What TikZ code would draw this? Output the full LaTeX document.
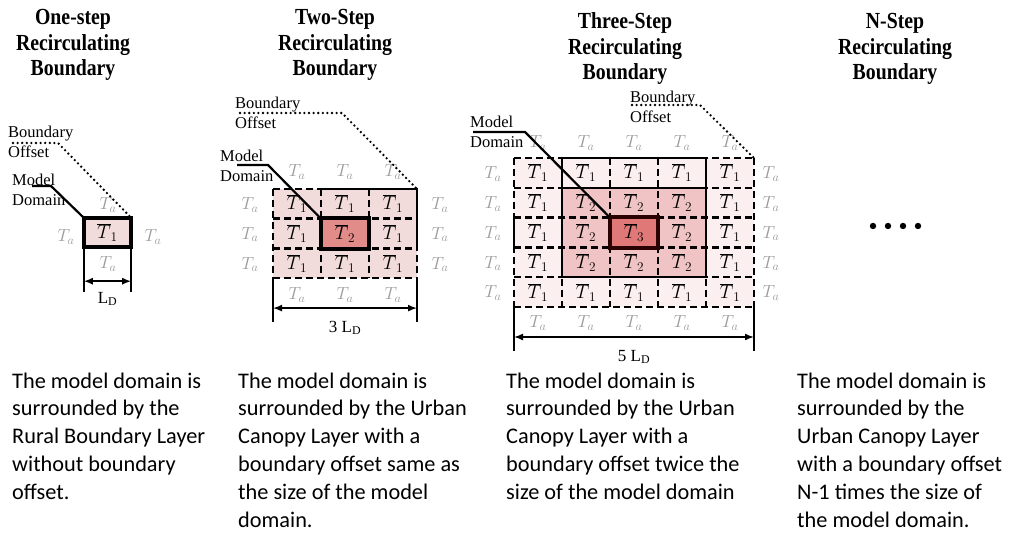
\documentclass[tikz,border=0pt]{standalone}
\usepackage{fix-cm}
\usepackage{fontspec}
\setmainfont{Liberation Serif}
\newfontfamily\titlefont[FakeStretch=0.86]{Liberation Serif}
\newfontfamily\bodyfont{Carlito}
\usetikzlibrary{arrows.meta,calc}
\definecolor{pinkA}{HTML}{F2DCDB}
\definecolor{pinkB}{HTML}{E28C8A}
\definecolor{paleC}{HTML}{FBEFEF}
\definecolor{midC}{HTML}{F0C4C4}
\definecolor{ctrC}{HTML}{E07878}
\definecolor{taGray}{HTML}{9A9A9A}
\definecolor{darkRed}{HTML}{2A0000}
\begin{document}
\begin{tikzpicture}[x=1pt,y=-1pt,
  titletext/.style={align=center,anchor=base,font=\titlefont\bfseries\fontsize{23}{25.5}\selectfont},
  bodytext/.style={align=left,anchor=base west,inner sep=0pt,font=\bodyfont\fontsize{22.3}{27.8}\selectfont},
  smalllabel/.style={align=left,anchor=base west,inner sep=0pt,font=\fontsize{16.5}{20}\selectfont},
  cell/.style={inner sep=0pt,minimum width=48pt,minimum height=29.8pt,font=\fontsize{19}{21}\selectfont},
  talabel/.style={text=taGray,inner sep=0pt,font=\fontsize{17.5}{20}\selectfont},
  gridline/.style={line width=2.4pt,dash pattern=on 7pt off 4pt},
  solidline/.style={line width=2.4pt},
  leader/.style={line width=2.2pt},
  dotline/.style={line width=2.6pt,line cap=round,dash pattern=on 0pt off 4.6pt},
  dimline/.style={line width=1.6pt},
  dimarrow/.style={line width=1.6pt,{Latex[length=9pt,width=7pt]}-{Latex[length=9pt,width=7pt]}},
  dimlabel/.style={anchor=base,inner sep=0pt,font=\fontsize{17}{20}\selectfont},
]
\fill[white] (0,0) rectangle (1016,534);
\useasboundingbox (0,0) rectangle (1016,534);

% ---------- Titles (anchor = baseline of last line) ----------
\node[titletext] (t1) at (73,76) {One-step\\Recirculating\\Boundary};
\node[titletext] (t2) at (335,76) {Two-Step\\Recirculating\\Boundary};
\node[titletext] (t3) at (625,80) {Three-Step\\Recirculating\\Boundary};
\node[titletext] (t4) at (895,80) {N-Step\\Recirculating\\Boundary};

% ---------- Panel 1 ----------
\node[cell,fill=pinkA,minimum width=47pt,minimum height=29pt] (c1) at (107.5,232.5) {$\overline{T}_1$};
\draw[line width=4pt] (c1.north west) rectangle (c1.south east);
\node[talabel] (ta1t) at (108,205) {$T_a$};
\node[talabel] (ta1l) at (66,237) {$T_a$};
\node[talabel] (ta1r) at (153,237) {$T_a$};
\node[talabel] (ta1b) at (108,264) {$T_a$};
\draw[dimline] (c1.south west) -- ++(0,45);
\draw[dimline] (c1.south east) -- ++(0,45);
\draw[dimarrow] ($(c1.south west)+(0,34)$) -- ($(c1.south east)+(0,34)$);
\node[dimlabel] (ld1) at (107.5,303) {L\textsubscript{D}};
\node[smalllabel] (md1) at (12,206) {Model\\Domain};
\node[smalllabel] (bo1) at (8,157.5) {Boundary\\Offset};
\coordinate (md1a) at (32,186);
\coordinate (md1b) at (51,186);
\draw[leader] (md1a) -- (md1b) -- (c1.north west);
\coordinate (bo1a) at (13,143);
\coordinate (bo1b) at (58,143);
\draw[dotline] (bo1a) -- (bo1b) -- (c1.north east);

% ---------- Panel 2 ----------
\foreach \i in {0,1,2}{
  \foreach \j in {0,1,2}{
    \node[cell,fill=pinkA,minimum height=29.7pt] (p2-\i-\j) at ({297+48*\i},{203.85+29.7*\j}) {$\overline{T}_1$};
  }
}
\node[cell,fill=pinkB,minimum height=29.7pt] (m2) at (345,233.55) {$\overline{T}_2$};
\foreach \i in {0,1,2,3}{
  \draw[gridline] ({273+48*\i},189) -- ({273+48*\i},278.1);
  \draw[gridline] (273,{189+29.7*\i}) -- (417,{189+29.7*\i});
}
\draw[solidline] (321,189) -- (417,189) -- (417,248.4);
\draw[line width=4pt] (m2.north west) rectangle (m2.south east);
\foreach \i in {0,1,2}{
  \node[talabel] (ta2t\i) at ({297+48*\i},172) {$T_a$};
  \node[talabel] (ta2b\i) at ({297+48*\i},295) {$T_a$};
  \node[talabel] (ta2l\i) at (250,{205+29.7*\i}) {$T_a$};
  \node[talabel] (ta2r\i) at (440,{205+29.7*\i}) {$T_a$};
}
\coordinate (d2l) at (273,278.1);
\coordinate (d2r) at (417,278.1);
\draw[dimline] (d2l) -- ++(0,44);
\draw[dimline] (d2r) -- ++(0,44);
\draw[dimarrow] ($(d2l)+(0,30)$) -- ($(d2r)+(0,30)$);
\node[dimlabel] (ld2) at (345,332) {3 L\textsubscript{D}};
\node[smalllabel] (md2) at (220,182) {Model\\Domain};
\node[smalllabel] (bo2) at (235,129) {Boundary\\Offset};
\coordinate (md2a) at (237,165);
\coordinate (md2b) at (268,165);
\draw[leader] (md2a) -- (md2b) -- (m2.north west);
\coordinate (bo2a) at (240,113);
\coordinate (bo2b) at (342,113);
\coordinate (bo2c) at (417,189);
\draw[dotline] (bo2a) -- (bo2b) -- (bo2c);

% ---------- Panel 3 ----------
\foreach \i in {0,...,4}{
  \foreach \j in {0,...,4}{
    \node[cell,fill=paleC] (p3-\i-\j) at ({538+48*\i},{172.9+29.8*\j}) {$\overline{T}_1$};
  }
}
\foreach \i in {1,2,3}{
  \foreach \j in {1,2,3}{
    \node[cell,fill=midC] (q3-\i-\j) at ({538+48*\i},{172.9+29.8*\j}) {$\overline{T}_2$};
  }
}
\node[cell,fill=ctrC] (m3) at (634,232.5) {$\overline{T}_3$};
\foreach \i in {0,...,5}{
  \draw[gridline] ({514+48*\i},158) -- ({514+48*\i},307);
  \draw[gridline] (514,{158+29.8*\i}) -- (754,{158+29.8*\i});
}
\draw[solidline] (562,158) rectangle (706,277.2);
\draw[solidline] (562,187.8) -- (706,187.8);
\draw[solidline] (514,217.6) -- (514,247.4);
\draw[line width=4pt,darkRed] (m3.north west) rectangle (m3.south east);
\foreach \i in {0,...,4}{
  \node[talabel] (ta3t\i) at ({538+48*\i},143) {$T_a$};
  \node[talabel] (ta3b\i) at ({538+48*\i},323) {$T_a$};
  \node[talabel] (ta3l\i) at (493,{174+29.8*\i}) {$T_a$};
  \node[talabel] (ta3r\i) at (771,{174+29.8*\i}) {$T_a$};
}
\coordinate (d3l) at (514,307);
\coordinate (d3r) at (754,307);
\draw[dimline] (d3l) -- ++(0,44);
\draw[dimline] (d3r) -- ++(0,44);
\draw[dimarrow] ($(d3l)+(0,30)$) -- ($(d3r)+(0,30)$);
\node[dimlabel] (ld3) at (634,361) {5 L\textsubscript{D}};
\node[smalllabel] (md3) at (470,148) {Model\\Domain};
\node[smalllabel] (bo3) at (630,123) {Boundary\\Offset};
\coordinate (md3a) at (473,132);
\coordinate (md3b) at (525,132);
\draw[leader] (md3a) -- (md3b) -- (m3.north west);
\coordinate (bo3a) at (632,105);
\coordinate (bo3b) at (700,105);
\coordinate (bo3c) at (754,158);
\draw[dotline] (bo3a) -- (bo3b) -- (bo3c);

% ---------- Panel 4 ----------
\foreach \k/\xx in {1/873,2/888,3/903,4/918}{
  \fill (\xx,226) circle (3.2pt);
}

% ---------- Descriptions (anchor = baseline of last line) ----------
\node[bodytext] (b1) at (12,499.2) {The model domain is\\surrounded by the\\Rural Boundary Layer\\without boundary\\offset.};
\node[bodytext] (b2) at (238,527) {The model domain is\\surrounded by the Urban\\Canopy Layer with a\\boundary offset same as\\the size of the model\\domain.};
\node[bodytext] (b3) at (506,499.2) {The model domain is\\surrounded by the Urban\\Canopy Layer with a\\boundary offset twice the\\size of the model domain};
\node[bodytext] (b4) at (797,527) {The model domain is\\surrounded by the\\Urban Canopy Layer\\with a boundary offset\\N-1 times the size of\\the model domain.};
\end{tikzpicture}
\end{document}
